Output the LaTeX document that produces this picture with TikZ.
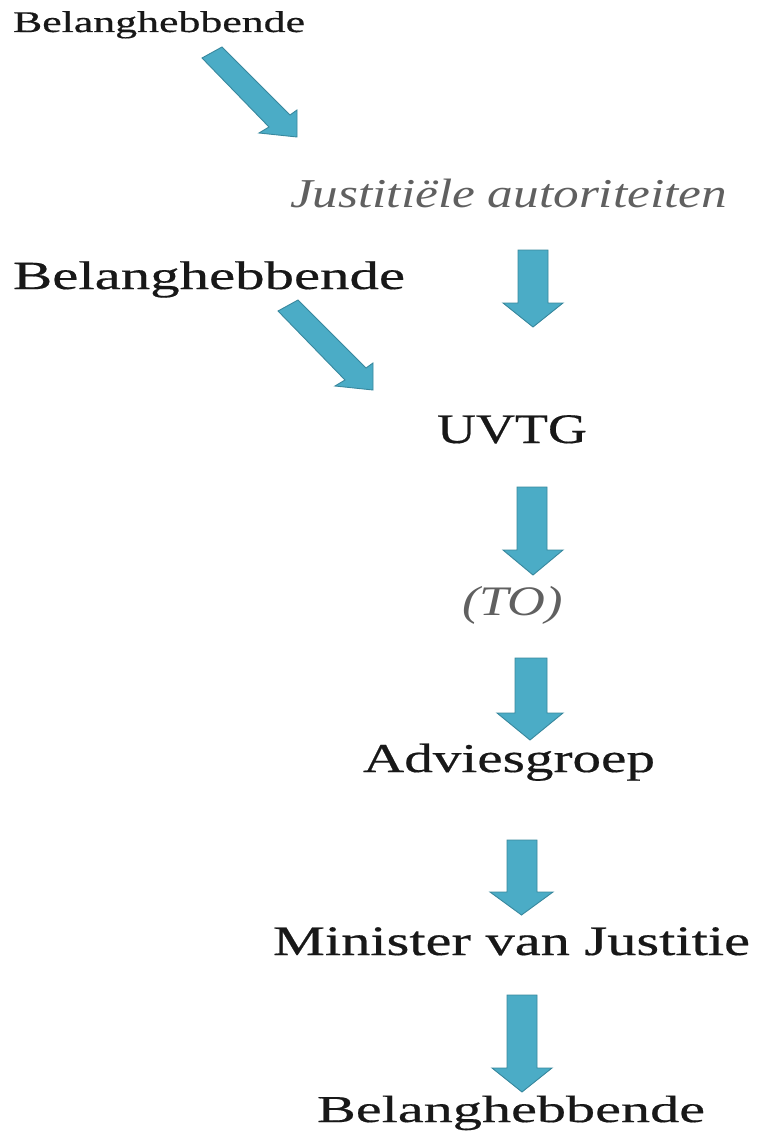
\documentclass[tikz,border=0pt]{standalone}
\usepackage{fontspec}
\setmainfont{Liberation Serif}
\newfontfamily\heavyserif[FakeBold=0.4]{Liberation Serif}
\usepackage{graphicx}
\definecolor{arrowfill}{RGB}{75,172,198}
\definecolor{arrowline}{RGB}{56,136,158}
\definecolor{txtgray}{RGB}{96,96,96}
\definecolor{txtblack}{RGB}{24,24,24}
% stretched text: width (pt), font size (pt), text
\newcommand{\wtext}[3]{\resizebox{#1pt}{\height}{\fontsize{#2}{#2}\selectfont #3}}
% vertical block arrow: shaft left, shaft right, head left, head right, top, head base, tip
\newcommand{\vblock}[7]{%
  \draw[blockarrow] (#1,#5) -- (#1,#6) -- (#3,#6) -- ({(#3+#4)/2},#7) -- (#4,#6) -- (#2,#6) -- (#2,#5) -- cycle;}
\begin{document}
\begin{tikzpicture}[x=1pt,y=-1pt,
  lbl/.style={anchor=base west, inner sep=0pt, outer sep=0pt, text=txtblack, font=\heavyserif},
  lblit/.style={anchor=base west, inner sep=0pt, outer sep=0pt, text=txtgray, font=\itshape},
  blockarrow/.style={fill=arrowfill, draw=arrowline, line width=0.9pt, line join=miter}]
\fill[white] (0,0) rectangle (759,1137);
\useasboundingbox (0,0) rectangle (759,1137);

% labels
\node[lbl]   (b1)   at (13,32)   {\wtext{292}{30}{\heavyserif Belanghebbende}};
\node[lblit] (just) at (290,207) {\wtext{437}{41}{\itshape Justitiële autoriteiten}};
\node[lbl]   (b2)   at (13,289)  {\wtext{392}{40}{\heavyserif Belanghebbende}};
\node[lbl]   (uvtg) at (437,443) {\wtext{150}{42}{\heavyserif UVTG}};
\node[lblit] (to)   at (462,615) {\wtext{101}{42}{\itshape (TO)}};
\node[lbl]   (adv)  at (363,772) {\wtext{292}{41}{\heavyserif Adviesgroep}};
\node[lbl]   (min)  at (273,955) {\wtext{477}{42}{\heavyserif Minister van Justitie}};
\node[lbl]   (b3)   at (317,1122){\wtext{388}{38}{\heavyserif Belanghebbende}};

% diagonal block arrows
\foreach \dx/\dy in {0/0, 76/253}{
  \begin{scope}[shift={(\dx,\dy)}]
    \draw[blockarrow] (202,58) -- (269,127) -- (259,133) -- (297,137) -- (297,110) -- (290,115) -- (222,47) -- cycle;
  \end{scope}
}

% vertical block arrows
\vblock{518}{548}{503}{563}{250}{303}{327}
\vblock{517}{547}{503}{563}{487}{550}{575}
\vblock{515}{547}{497}{563}{658}{713}{740}
\vblock{507}{537}{490}{553}{840}{892}{915}
\vblock{507}{537}{492}{552}{995}{1068}{1092}
\end{tikzpicture}
\end{document}
